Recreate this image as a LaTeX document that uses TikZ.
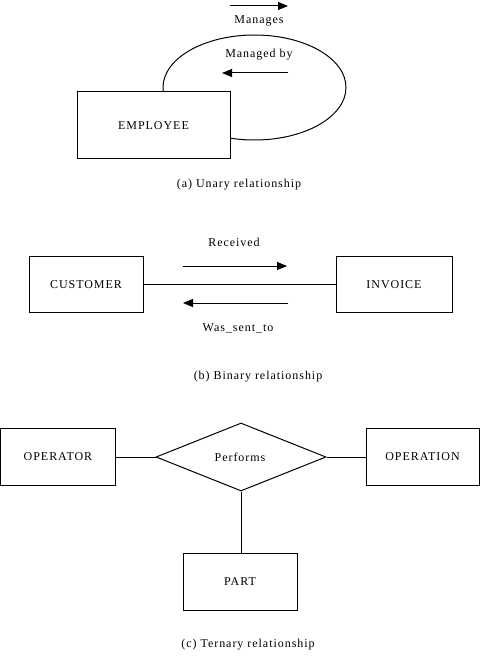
\documentclass[tikz,border=0pt]{standalone}
\usepackage{fontspec}
\setmainfont{Liberation Serif}[LetterSpace=8]
\usetikzlibrary{shapes.geometric,arrows.meta}
\tikzset{
  entity/.style={draw, fill=white, line width=1pt, inner sep=0pt, minimum height=57pt},
  rel/.style={draw, fill=white, diamond, line width=1pt, inner sep=0pt, minimum width=170pt, minimum height=68pt},
  lbl/.style={inner sep=0pt, font=\fontsize{12}{14}\selectfont},
  conn/.style={line width=1pt},
  dirarrow/.style={line width=1pt, -{Triangle[length=10pt,width=8pt]}}
}
\begin{document}
\begin{tikzpicture}[x=1pt,y=-1pt]
\useasboundingbox (0,0) rectangle (480,668);
% (a) unary
\draw[line width=1pt] (254.5,87.5) ellipse [x radius=91.5pt, y radius=52.5pt];
\node[entity, minimum width=153pt, minimum height=67pt] (emp) at (153.5,125.5) {};
\node[lbl] (empt) at (153.5,125.5) {EMPLOYEE};
\coordinate (m1) at (230,6); \coordinate (m2) at (288,6);
\draw[dirarrow] (m1) -- (m2);
\node[lbl] (manages) at (259,21) {Manages};
\node[lbl] (managedby) at (259,55) {Managed by};
\coordinate (mb1) at (288,73); \coordinate (mb2) at (222,73);
\draw[dirarrow] (mb1) -- (mb2);
\node[lbl] (capa) at (239,185) {(a) Unary relationship};
% (b) binary
\node[entity, minimum width=114pt, minimum height=56pt] (cust) at (86,284.5) {};
\node[lbl] at (cust) {CUSTOMER};
\node[entity, minimum width=116pt, minimum height=56pt] (inv) at (394,284.5) {};
\node[lbl] at (inv) {INVOICE};
\draw[conn] (cust) -- (inv);
\node[lbl] (recv) at (234,242) {Received};
\coordinate (r1) at (183,266); \coordinate (r2) at (287,266);
\draw[dirarrow] (r1) -- (r2);
\coordinate (w1) at (288,303); \coordinate (w2) at (183,303);
\draw[dirarrow] (w1) -- (w2);
\node[lbl] (was) at (238,328) {Was\_sent\_to};
\node[lbl] (capb) at (258,377) {(b) Binary relationship};
% (c) ternary
\node[entity, minimum width=115pt] (op) at (58,457) {};
\node[lbl] at (op) {OPERATOR};
\node[rel] (perf) at (241,457) {};
\node[lbl] at (240,457) {Performs};
\node[entity, minimum width=113pt] (opn) at (422.5,457) {};
\node[lbl] at (opn) {OPERATION};
\node[entity, minimum width=114pt] (part) at (240,581.5) {};
\node[lbl] at (part) {PART};
\draw[conn] (op.east) -- (perf.west);
\draw[conn] (perf.east) -- (opn.west);
\draw[conn] (perf.south) -- (part.north -| perf.south);
\node[lbl] (capc) at (248,645) {(c) Ternary relationship};
\end{tikzpicture}
\end{document}
